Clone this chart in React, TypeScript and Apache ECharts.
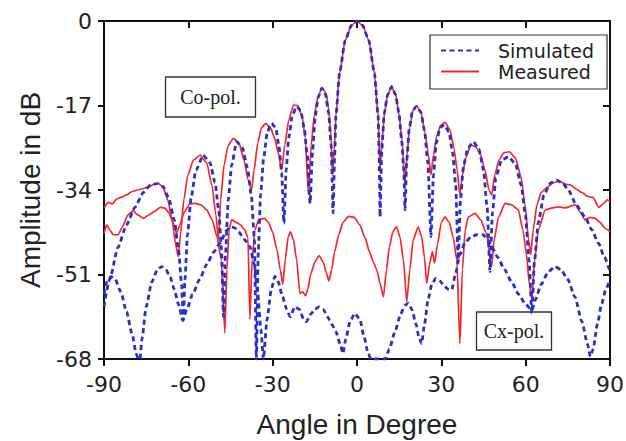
import React, { useEffect, useRef } from "react";
import * as echarts from "echarts";

const xTicks = { min: -90, max: 90, step: 30 };
const yTicks = { min: -68, max: 0, step: 17 };

const seriesNames = ["Simulated", "Measured"];
const boxLabels = ["Co-pol.", "Cx-pol."];

// Co-polar, simulated [angle (deg), amplitude (dB)]
const coSimulated: [number, number][] = [
  [-90, -57.5], [-88, -52], [-85, -45.5], [-82, -41], [-79, -37.5], [-76, -34.5], [-73.5, -33], [-71.3, -32.7],
  [-69, -33.3], [-67, -35.5], [-65, -40], [-63.5, -46], [-62.4, -53], [-61.8, -60.2], [-61.2, -52], [-60.3, -43],
  [-59, -35.5], [-57.3, -30], [-54.7, -27], [-52.3, -28.5], [-50.5, -32.5], [-49.2, -38], [-48.2, -46], [-47.5, -59.5],
  [-46.8, -47], [-45.8, -36], [-44.6, -29], [-42.8, -24.3], [-40.8, -25.5], [-39, -29.5], [-37.6, -35], [-36.5, -44],
  [-35.8, -68], [-35.1, -46], [-34.3, -35], [-33.2, -27.5], [-31.9, -22.3], [-30.4, -20.6], [-28.9, -21.5], [-27.8, -25],
  [-26.8, -30.5], [-26, -40.7], [-25.2, -30], [-24.3, -23.5], [-23, -19], [-21.5, -17.2], [-20, -18], [-18.8, -21.5],
  [-17.7, -27], [-16.7, -36.7], [-15.8, -26], [-14.8, -19], [-13.8, -15.3], [-12.5, -13.5], [-11.2, -14.8], [-10.1, -18.5],
  [-9.2, -25], [-8.5, -38.6], [-8, -28], [-7.5, -19], [-6.2, -10.5], [-4.2, -3.9], [-2, -0.9], [0, 0],
  [2, -0.9], [4.2, -3.9], [6.2, -10.5], [7.5, -19], [7.9, -27], [8.2, -39.4], [8.8, -26], [9.7, -18.5],
  [10.9, -14.8], [12.3, -13.2], [13.7, -14.8], [14.9, -18.5], [15.9, -24], [16.6, -29.5], [17.1, -38], [17.7, -28],
  [18.6, -21.5], [19.8, -18], [21.2, -17.2], [22.7, -18.3], [24, -22], [25.2, -28.5], [26.3, -43.4], [27.2, -31],
  [28.2, -24.5], [29.6, -21.4], [31.1, -20.9], [32.7, -22.3], [34, -26.5], [35.1, -33], [36, -48], [36.8, -36],
  [37.9, -29], [39.5, -25.5], [41.4, -24.3], [43.4, -25.8], [45, -30], [46.3, -37.5], [47.3, -50.4], [48.2, -38.5],
  [49.4, -31.5], [51.4, -28], [53.9, -27.3], [56.4, -28.8], [58.4, -33], [59.9, -39], [61.2, -48], [62.2, -58.8],
  [63.1, -48.5], [64.5, -40.5], [66.5, -35], [68.8, -32.6], [71, -32], [73.3, -32.7], [75.2, -34], [78, -37],
  [81.1, -39.4], [83.5, -42], [85.9, -44.7], [88, -47.5], [90, -50.4],
];

// Co-polar, measured
const coMeasured: [number, number][] = [
  [-90, -37.7], [-88.5, -36.5], [-87, -36.8], [-85.5, -35.8], [-84, -35.5], [-82, -35], [-80, -34.3], [-78, -34],
  [-76, -33.7], [-74, -33.3], [-72, -32.8], [-70.5, -32.7], [-69, -33.5], [-67.3, -36], [-65.8, -40], [-64.5, -45],
  [-63.6, -47.4], [-62.8, -43], [-61.6, -36], [-60.2, -31], [-58.2, -28], [-55.8, -27], [-53.5, -28.5], [-51.6, -33],
  [-50.2, -39], [-49.3, -44], [-48.5, -36], [-47.3, -29], [-45.8, -25], [-44, -23.6], [-42, -24.5], [-40.2, -28],
  [-38.7, -32], [-37.5, -34], [-36.6, -30], [-35.3, -24.5], [-34, -21.5], [-32.5, -20.6], [-30.8, -21.5], [-29.3, -23.5],
  [-28, -26.5], [-26.8, -30], [-25.7, -25], [-24.3, -20], [-22.6, -16.9], [-21, -17], [-19.6, -19], [-18.4, -23.5],
  [-17.3, -34.7], [-16.3, -25], [-15.2, -19], [-14, -15.5], [-12.5, -13.5], [-11, -14.5], [-10, -18], [-9.3, -23],
  [-8.7, -31], [-8.1, -26], [-7.5, -19], [-6.2, -10.5], [-4.2, -3.9], [-2, -0.9], [0, 0], [2, -0.9],
  [4.2, -3.9], [6.2, -10.5], [7.5, -19], [8.2, -30], [8.9, -24], [9.8, -18.5], [10.8, -15], [12.3, -13.2],
  [13.8, -15], [15, -19], [16, -24], [17, -33], [17.8, -27], [18.7, -21.5], [19.9, -18], [21.2, -17],
  [22.8, -18.5], [24.2, -22.5], [25.4, -27], [26.3, -31], [27.2, -27], [28.4, -23], [29.8, -21], [31.3, -20.4],
  [33, -21.8], [34.5, -25.5], [35.6, -30], [36.6, -35], [37.5, -31], [38.7, -27.5], [40.5, -25], [42.3, -25.3],
  [44, -27], [45.5, -30], [47, -34], [47.9, -35], [49, -31], [50.5, -28], [52.3, -26.5], [54.2, -26.3],
  [56.3, -27.5], [58.2, -31], [59.8, -37], [61, -44], [61.8, -47], [62.7, -42], [64, -37], [65.5, -34.5],
  [67.5, -33.5], [70, -32.5], [72, -32.2], [74, -32.8], [76, -33], [78, -33.8], [80, -34.5], [82, -35.3],
  [84, -35.5], [86, -37.5], [87.5, -36.8], [89, -36], [90, -36.3],
];

// Cross-polar, simulated
const cxSimulated: [number, number][] = [
  [-90, -55], [-89, -52.5], [-87.5, -51.4], [-86, -52], [-84, -54.5], [-82, -58.5], [-80, -63], [-78.5, -67],
  [-77.8, -68], [-77.2, -68], [-76.5, -64], [-75, -57.5], [-73, -52.5], [-71, -50], [-69.5, -49.4], [-68, -50],
  [-66.5, -51.5], [-65, -54], [-63.5, -57], [-62, -60.2], [-60.5, -58], [-58.5, -55], [-56, -52], [-53.5, -49],
  [-51, -46.5], [-48.7, -44.7], [-46.5, -42.2], [-45, -41.4], [-43.5, -41.6], [-42, -42.5], [-40, -44], [-38.1, -45.4],
  [-36.5, -49], [-35.3, -55], [-34.2, -62], [-33.3, -68], [-32, -60], [-30.5, -54], [-29.2, -51.4], [-28, -52.5],
  [-26.5, -55.5], [-25, -58], [-23.8, -59.5], [-22.1, -57.5], [-20.5, -58], [-19, -60], [-18, -60.5], [-16.5, -59],
  [-15, -58], [-13.5, -57.5], [-12, -58], [-10.5, -59.5], [-9, -61], [-7.5, -62.5], [-6, -65], [-5, -66.9],
  [-4, -64], [-2.5, -60.5], [-0.8, -58.8], [1, -60], [2.5, -63.5], [4, -67], [5, -68], [10, -68],
  [11.5, -66], [13.5, -62.5], [15.5, -59], [17, -57.2], [18.3, -56.8], [19.5, -58], [21, -61], [22, -63.5],
  [23, -64.9], [24, -61], [25.3, -56], [26.6, -53], [28, -51.8], [29.5, -52.3], [31, -53.3], [32.5, -54],
  [33.7, -54.1], [35, -51], [36.6, -47], [38.5, -44.5], [40.5, -43.5], [42.5, -43], [44.9, -43], [46.5, -44],
  [48, -45.5], [50, -47.5], [52.5, -50], [55, -52.5], [57.5, -55], [60, -57], [62.2, -58.2], [63.5, -56],
  [65.5, -53], [68, -50.5], [70.4, -49.4], [72.5, -50], [75, -52], [77.5, -55.5], [80, -60.5], [82, -65],
  [83, -67.5], [84, -66], [85.5, -61], [87, -57], [88.5, -54], [90, -52],
];

// Cross-polar, measured
const cxMeasured: [number, number][] = [
  [-90, -42.7], [-89, -41], [-88, -42], [-86.7, -43], [-85, -43], [-83.5, -41.5], [-81.5, -39], [-79.6, -38.2],
  [-78, -39], [-76, -39.7], [-74, -39], [-72, -38.3], [-70, -37.5], [-68.5, -37.6], [-67, -38.5], [-65.5, -40.5],
  [-64.2, -42.7], [-63, -41], [-61.5, -38.5], [-59.5, -36.8], [-57.6, -36.7], [-55.5, -37], [-53.5, -38], [-51.5, -40],
  [-49.8, -43.4], [-48.3, -48], [-47, -62.8], [-46.3, -50], [-45.5, -42], [-44.6, -40], [-43, -40.5], [-41.5, -41],
  [-40, -42], [-38.8, -43.5], [-38.1, -60], [-37.3, -48], [-36.3, -42], [-35, -40], [-33, -39.7], [-31.5, -40.5],
  [-30, -42.5], [-28.5, -46], [-27.3, -50], [-26.4, -53], [-25.5, -48], [-24.5, -43.5], [-23.7, -42.4], [-22.6, -44],
  [-21.5, -48], [-20.3, -54.8], [-19.3, -54.5], [-18.3, -55.3], [-17.5, -54], [-16.5, -51], [-15, -48.5], [-13.5, -47.2],
  [-12, -48.5], [-11, -50.5], [-10, -52.3], [-9, -50], [-8, -46.5], [-6.5, -43], [-5, -40.5], [-3, -39.3],
  [-1, -39.5], [1, -41], [2.8, -43.5], [4.5, -46.5], [5.8, -48.5], [7, -50], [8.3, -53], [9.4, -55.5],
  [10.5, -50], [11.5, -45.5], [12.8, -42.3], [14.1, -41.4], [15.3, -43.5], [16.5, -48], [17.7, -56.5], [18.8, -50],
  [20, -44], [21.8, -41.4], [23, -43.5], [24, -47.5], [24.8, -52.8], [25.8, -49], [26.8, -46.4], [27.6, -48.7],
  [28.6, -45], [30, -40.5], [31.3, -39.4], [32.8, -40.5], [34.2, -43.5], [35.5, -48], [36.6, -64.9], [37.5, -50],
  [38.5, -42], [39.6, -39.4], [42, -38.7], [44, -40], [46, -42.7], [47.9, -49.4], [48.8, -44], [50.3, -39.5],
  [52.7, -36.7], [55, -37], [57.4, -38], [59, -42], [60.3, -47], [61.3, -53], [62.2, -56], [63.2, -48],
  [64.5, -42], [67, -38], [69.5, -37.6], [71.7, -37.4], [74, -37.6], [77.6, -37], [79.5, -38.5], [81.1, -40],
  [83, -39.5], [84.7, -39.7], [86.5, -40.5], [88.2, -41.7], [90, -42.4],
];

const BLUE = "#2b30c4";
const RED = "#f02a2a";
const AXIS = "#111";
const tickFont = "DejaVu Sans";
const titleFont = "Liberation Sans";

export default function App() {
  const ref = useRef<HTMLDivElement>(null);
  useEffect(() => {
    if (!ref.current) return;
    const chart = echarts.init(ref.current, undefined, { renderer: "svg" });
    const simStyle = { color: BLUE, width: 2.8, type: [5, 3.5] as number[] };
    const measStyle = { color: RED, width: 1.7, type: "solid" as const };
    const mkSeries = (name: string, data: [number, number][], style: any, z: number) => ({
      name,
      type: "line",
      data,
      symbol: "none",
      showSymbol: false,
      smooth: 0.2,
      smoothMonotone: "x",
      clip: true,
      z,
      lineStyle: style,
      itemStyle: { color: "rgba(0,0,0,0)", borderWidth: 0 },
    });
    const hiddenAxis = {
      axisLine: { show: true, onZero: false, lineStyle: { color: AXIS, width: 2 } },
      axisTick: { show: true, inside: true, length: 7, lineStyle: { color: AXIS, width: 2 } },
      axisLabel: { show: false },
      splitLine: { show: false },
    };
    chart.setOption({
      animation: false,
      backgroundColor: "#fff",
      grid: { left: 104, right: 16, top: 21, bottom: 82, containLabel: false, outerBoundsMode: "none" },
      legend: {
        left: 430,
        top: 35,
        orient: "vertical",
        data: seriesNames,
        itemWidth: 38,
        itemHeight: 14,
        itemGap: 0,
        padding: [5, 13, 7, 10],
        borderColor: "#333",
        borderWidth: 1.2,
        backgroundColor: "#fff",
        itemStyle: { opacity: 0 },
        textStyle: {
          fontFamily: tickFont,
          fontSize: 19,
          color: "#222",
          lineHeight: 21,
          padding: [0, 0, 0, 14],
        },
        z: 20,
      },
      xAxis: [
        {
          type: "value",
          position: "bottom",
          min: xTicks.min,
          max: xTicks.max,
          interval: xTicks.step,
          name: "Angle in Degree",
          nameLocation: "middle",
          nameGap: 51,
          nameTextStyle: { fontFamily: titleFont, fontSize: 28, color: "#222" },
          axisLine: { show: true, onZero: false, lineStyle: { color: AXIS, width: 2 } },
          axisTick: { show: true, inside: false, length: 7, lineStyle: { color: AXIS, width: 2 } },
          axisLabel: { fontFamily: tickFont, fontSize: 22, color: "#222", margin: 14 },
          splitLine: { show: false },
        },
        {
          type: "value",
          position: "top",
          min: xTicks.min,
          max: xTicks.max,
          interval: xTicks.step,
          ...hiddenAxis,
        },
      ],
      yAxis: [
        {
          type: "value",
          position: "left",
          min: yTicks.min,
          max: yTicks.max,
          interval: yTicks.step,
          name: "Amplitude in dB",
          nameLocation: "middle",
          nameGap: 60,
          nameRotate: 90,
          nameTextStyle: { fontFamily: titleFont, fontSize: 28, color: "#222" },
          axisLine: { show: true, onZero: false, lineStyle: { color: AXIS, width: 2 } },
          axisTick: { show: true, inside: false, length: 6, lineStyle: { color: AXIS, width: 2 } },
          axisLabel: { fontFamily: tickFont, fontSize: 22, color: "#222", margin: 12 },
          splitLine: { show: false },
        },
        {
          type: "value",
          position: "right",
          min: yTicks.min,
          max: yTicks.max,
          interval: yTicks.step,
          ...hiddenAxis,
        },
      ],
      series: [
        mkSeries(seriesNames[1], coMeasured, measStyle, 2),
        mkSeries(seriesNames[1], cxMeasured, measStyle, 2),
        mkSeries(seriesNames[0], coSimulated, simStyle, 3),
        mkSeries(seriesNames[0], cxSimulated, simStyle, 3),
      ],
      graphic: [
        {
          type: "group",
          z: 50,
          children: [
            {
              type: "rect",
              shape: { x: 165.5, y: 77, width: 90, height: 40 },
              style: { fill: "#fff", stroke: "#333", lineWidth: 1.3 },
            },
            {
              type: "text",
              x: 210.5,
              y: 97,
              style: {
                text: boxLabels[0],
                fill: "#222",
                font: '20px "Liberation Serif"',
                textAlign: "center",
                textVerticalAlign: "middle",
                verticalAlign: "middle",
                align: "center",
              },
            },
            {
              type: "rect",
              shape: { x: 476.5, y: 312, width: 75, height: 38 },
              style: { fill: "#fff", stroke: "#333", lineWidth: 1.3 },
            },
            {
              type: "text",
              x: 514,
              y: 331,
              style: {
                text: boxLabels[1],
                fill: "#222",
                font: '20px "Liberation Serif"',
                textAlign: "center",
                textVerticalAlign: "middle",
                verticalAlign: "middle",
                align: "center",
              },
            },
          ],
        },
      ],
    });
    return () => chart.dispose();
  }, []);
  return (
    <div
      ref={ref}
      style={{ position: "fixed", left: 0, top: 0, width: 626, height: 441, background: "#fff" }}
    />
  );
}
